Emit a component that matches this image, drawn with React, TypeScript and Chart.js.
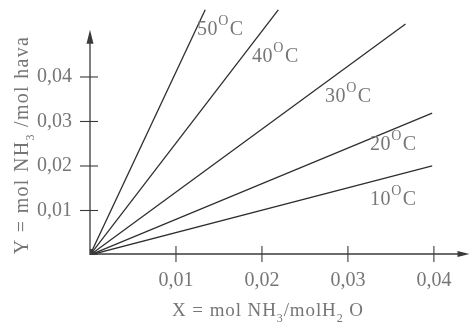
import { useEffect, useRef } from "react";
import { Chart, registerables } from "chart.js";
Chart.register(...registerables);

// ---- data ----
const temperatures = ["10", "20", "30", "40", "50"];
const lineEndX = [0.0398, 0.0398, 0.0367, 0.0219, 0.0134];
const lineEndY = [0.02, 0.0319, 0.0519, 0.0551, 0.0551];
const labelAnchorX = [0.03256, 0.03256, 0.02733, 0.01884, 0.01244];
const labelAnchorY = [0.01124, 0.0236, 0.03438, 0.04337, 0.04944];
const tickValues = [0.01, 0.02, 0.03, 0.04];
const tickLabels = ["0,01", "0,02", "0,03", "0,04"];
const xAxisMax = 0.0442;
const yAxisMax = 0.0555;
const yAxisArrowEnd = 0.0506;

const TEXT = "#767676";
const LINE = "#2e2e2e";
const FONT = "Liberation Serif";

type Seg = { t: string; sup?: boolean; sub?: boolean };

function segSize(s: Seg, size: number) {
  if (s.sup) return Math.round(size * 0.7);
  if (s.sub) return Math.round(size * 0.62);
  return size;
}

function drawRich(ctx: CanvasRenderingContext2D, x: number, y: number, segs: Seg[], size: number, spacing = 0) {
  let cx = x;
  for (const s of segs) {
    ctx.font = `${segSize(s, size)}px "${FONT}"`;
    const dy = s.sup ? -size * 0.48 : s.sub ? size * 0.3 : 0;
    for (const ch of s.t) {
      ctx.fillText(ch, cx, y + dy);
      cx += ctx.measureText(ch).width + spacing;
    }
    if (s.sup) cx += 1;
  }
  return cx - x;
}

function richWidth(ctx: CanvasRenderingContext2D, segs: Seg[], size: number, spacing = 0) {
  let w = 0;
  for (const s of segs) {
    ctx.font = `${segSize(s, size)}px "${FONT}"`;
    for (const ch of s.t) w += ctx.measureText(ch).width + spacing;
    if (s.sup) w += 1;
  }
  return w;
}

const xTitle: Seg[] = [{ t: "X = mol NH" }, { t: "3", sub: true }, { t: "/molH" }, { t: "2", sub: true }, { t: " O" }];
const yTitle: Seg[] = [{ t: "Y = mol NH" }, { t: "3", sub: true }, { t: " /mol hava" }];

const decorPlugin = {
  id: "decor",
  afterDraw(chart: any) {
    const { ctx, scales } = chart;
    const xs = scales.x;
    const ys = scales.y;
    const x0 = xs.getPixelForValue(0);
    const y0 = ys.getPixelForValue(0);
    ctx.save();
    ctx.strokeStyle = "#3a3a3a";
    ctx.fillStyle = "#3a3a3a";
    ctx.lineWidth = 1.3;
    // y axis
    const yTop = ys.getPixelForValue(yAxisArrowEnd);
    ctx.beginPath();
    ctx.moveTo(x0, y0);
    ctx.lineTo(x0, yTop + 4);
    ctx.stroke();
    ctx.beginPath();
    ctx.moveTo(x0, yTop);
    ctx.lineTo(x0 - 3.5, yTop + 14);
    ctx.lineTo(x0 + 3.5, yTop + 14);
    ctx.closePath();
    ctx.fill();
    // x axis
    const xRight = xs.getPixelForValue(xAxisMax) - 0.5;
    const ya = y0 - 1;
    ctx.beginPath();
    ctx.moveTo(x0, ya);
    ctx.lineTo(xRight - 4, ya);
    ctx.stroke();
    ctx.beginPath();
    ctx.moveTo(xRight, ya);
    ctx.lineTo(xRight - 12, ya - 3);
    ctx.lineTo(xRight - 12, ya + 3);
    ctx.closePath();
    ctx.fill();
    // ticks
    ctx.lineWidth = 1.1;
    for (const v of tickValues) {
      const py = ys.getPixelForValue(v);
      ctx.beginPath();
      ctx.moveTo(x0 - 10, py);
      ctx.lineTo(x0 + 8, py);
      ctx.stroke();
      const px = xs.getPixelForValue(v);
      ctx.beginPath();
      ctx.moveTo(px, ya - 8);
      ctx.lineTo(px, ya + 8);
      ctx.stroke();
    }
    // origin blob
    ctx.beginPath();
    ctx.moveTo(x0, ya + 1);
    ctx.lineTo(x0 + 8, ya + 1);
    ctx.lineTo(x0 + 2, ya - 5);
    ctx.lineTo(x0, ya - 5);
    ctx.closePath();
    ctx.fill();

    // temperature labels
    ctx.fillStyle = TEXT;
    ctx.textAlign = "left";
    ctx.textBaseline = "alphabetic";
    temperatures.forEach((t, i) => {
      const px = xs.getPixelForValue(labelAnchorX[i]);
      const py = ys.getPixelForValue(labelAnchorY[i]);
      drawRich(ctx, px, py, [{ t }, { t: "O", sup: true }, { t: "C" }], 20, 0.6);
    });

    // axis titles
    const wx = richWidth(ctx, xTitle, 19, 0.9);
    drawRich(ctx, 268 - wx / 2, 316, xTitle, 19, 0.9);
    const wy = richWidth(ctx, yTitle, 20, 1.3);
    ctx.translate(28, 145);
    ctx.rotate(-Math.PI / 2);
    drawRich(ctx, -wy / 2, 0, yTitle, 20, 1.3);
    ctx.restore();
  },
};

export default function App() {
  const ref = useRef<HTMLCanvasElement>(null);
  useEffect(() => {
    if (!ref.current) return;
    const tickCb = (v: any) => {
      const i = tickValues.findIndex((t) => Math.abs(t - Number(v)) < 1e-9);
      return i >= 0 ? tickLabels[i] : "";
    };
    const chart = new Chart(ref.current, {
      type: "scatter",
      data: {
        datasets: temperatures.map((t, i) => ({
          label: t + "°C",
          data: [
            { x: 0, y: 0 },
            { x: lineEndX[i], y: lineEndY[i] },
          ],
          showLine: true,
          pointRadius: 0,
          borderColor: LINE,
          borderWidth: 1.3,
        })),
      },
      options: {
        animation: false,
        responsive: true,
        maintainAspectRatio: false,
        layout: { padding: { top: 8, right: 1, left: 0, bottom: 0 } },
        plugins: { legend: { display: false }, tooltip: { enabled: false } },
        scales: {
          x: {
            type: "linear",
            min: 0,
            max: xAxisMax,
            grid: { display: false, drawTicks: false },
            border: { display: false },
            afterBuildTicks: (s: any) => {
              s.ticks = tickValues.map((v) => ({ value: v }));
            },
            afterFit: (s: any) => {
              s.height = 75;
              s.paddingLeft = 0;
              s.paddingRight = 0;
            },
            ticks: {
              callback: tickCb,
              color: TEXT,
              font: { family: FONT, size: 20 },
              padding: 14,
              maxRotation: 0,
              autoSkip: false,
            },
          },
          y: {
            type: "linear",
            min: 0,
            max: yAxisMax,
            grid: { display: false, drawTicks: false },
            border: { display: false },
            afterBuildTicks: (s: any) => {
              s.ticks = tickValues.map((v) => ({ value: v }));
            },
            afterFit: (s: any) => {
              s.width = 90;
              s.paddingTop = 0;
              s.paddingBottom = 0;
            },
            ticks: {
              callback: tickCb,
              color: TEXT,
              font: { family: FONT, size: 20 },
              padding: 18,
              autoSkip: false,
            },
          },
        },
      },
      plugins: [decorPlugin],
    });
    return () => chart.destroy();
  }, []);
  return (
    <div style={{ position: "fixed", left: 0, top: 0, width: 471, height: 330, background: "#fff" }}>
      <canvas ref={ref} />
    </div>
  );
}
